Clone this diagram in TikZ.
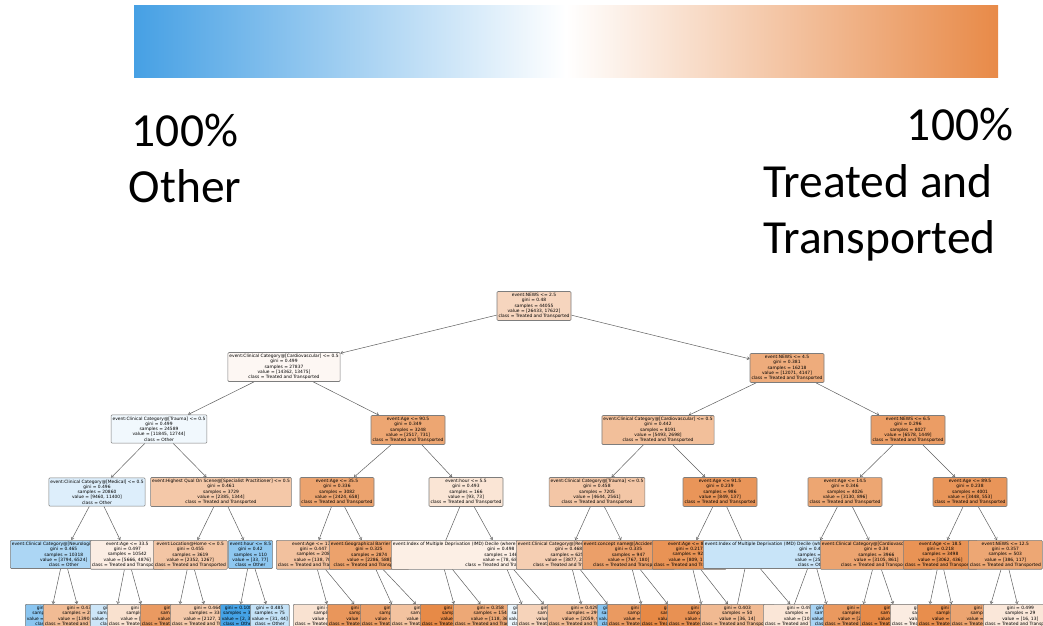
\documentclass[tikz,border=0pt]{standalone}
\usepackage{fontspec}
\usepackage{xcolor}
\usepackage{tikz}
\usetikzlibrary{arrows.meta, backgrounds}

\newfontfamily\treefont{DejaVu Sans}
\newfontfamily\labelfont{Carlito}

\definecolor{treat}{RGB}{229,129,57}
\definecolor{other}{RGB}{57,157,229}
\definecolor{barblue}{RGB}{70,160,228}
\definecolor{barorange}{RGB}{232,138,72}
\definecolor{boxgray}{RGB}{125,125,125}
\definecolor{edgegray}{RGB}{95,95,95}

\newcommand{\treated}{Treated and Transported}
\newcommand{\splittext}[5]{#1\\gini = #2\\samples = #3\\value = [#4]\\class = #5}
\newcommand{\leaftext}[4]{gini = #1\\samples = #2\\value = [#3]\\class = #4}

\begin{document}
\begin{tikzpicture}[x=1pt,y=-1pt,
    split node/.style={draw=boxgray,line width=0.6pt,rounded corners=1pt,align=center,
      inner xsep=1.5pt,inner ysep=1.8pt,text=black,
      font=\treefont\fontsize{4.4}{5.3}\selectfont},
    low node/.style={split node,anchor=north west},
    big label/.style={font=\labelfont\fontsize{47.5}{56}\selectfont,text=black,inner sep=0pt},
    tree edge/.style={draw=edgegray,line width=0.5pt,-{Straight Barb[length=2.2pt,width=3.2pt]}}]

  \useasboundingbox (0,0) rectangle (1043,625);
  \clip (0,0) rectangle (1043,625);

  % colour scale
  \shade[left color=barblue,right color=barorange,middle color=white] (134,5) rectangle (998,77);

  \node[big label,anchor=base] (pctother) at (185,146) {100\%};
  \node[big label,anchor=base] (nameother) at (185,202) {Other};
  \node[big label,anchor=base] (pcttreat) at (960,140) {100\%};
  \node[big label,anchor=base west] (nametreat) at (763,197) {Treated and};
  \node[big label,anchor=base west] (nametransp) at (763,253) {Transported};

  % upper levels
  \node[split node,fill=treat!33] (n0) at (534,306) {\splittext{event:NEWS <= 2.5}{0.48}{44055}{26433, 17622}{\treated}};

  \node[split node,fill=treat!6] (n1) at (284,367) {\splittext{event:Clinical Category@[Cardiovascular] <= 0.5}{0.499}{27837}{14362, 13475}{\treated}};
  \node[split node,fill=treat!66] (n2) at (787,368) {\splittext{event:NEWS <= 4.5}{0.381}{16218}{12071, 4147}{\treated}};

  \node[split node,fill=other!7] (n3) at (159,429) {\splittext{event:Clinical Category@[Trauma] <= 0.5}{0.499}{24589}{11845, 12744}{Other}};
  \node[split node,fill=treat!71] (n4) at (408,430) {\splittext{event:Age <= 90.5}{0.349}{3248}{2517, 731}{\treated}};
  \node[split node,fill=treat!51] (n5) at (658,430) {\splittext{event:Clinical Category@[Cardiovascular] <= 0.5}{0.442}{8191}{5493, 2698}{\treated}};
  \node[split node,fill=treat!78] (n6) at (908,430) {\splittext{event:NEWS <= 6.5}{0.296}{8027}{6578, 1449}{\treated}};

  \node[split node,fill=other!17] (n7) at (97,492) {\splittext{event:Clinical Category@[Medical] <= 0.5}{0.496}{20860}{9460, 11400}{Other}};
  \node[split node,fill=treat!44] (n8) at (221,492) {\splittext{event:Highest Qual On Scene@[Specialist Practitioner] <= 0.5}{0.461}{3729}{2385, 1344}{\treated}};
  \node[split node,fill=treat!73] (n9) at (337,492) {\splittext{event:Age <= 35.5}{0.336}{3082}{2424, 658}{\treated}};
  \node[split node,fill=treat!21] (n10) at (466,492) {\splittext{event:hour <= 5.5}{0.493}{166}{93, 73}{\treated}};
  \node[split node,fill=treat!45] (n11) at (597,492) {\splittext{event:Clinical Category@[Trauma] <= 0.5}{0.458}{7205}{4644, 2561}{\treated}};
  \node[split node,fill=treat!84] (n12) at (720,492) {\splittext{event:Age <= 91.5}{0.239}{986}{849, 137}{\treated}};
  \node[split node,fill=treat!71] (n13) at (845,492) {\splittext{event:Age <= 14.5}{0.346}{4026}{3130, 896}{\treated}};
  \node[split node,fill=treat!84] (n14) at (970,492) {\splittext{event:Age <= 89.5}{0.238}{4001}{3448, 553}{\treated}};

  % fourth level, each box laid over the one before it
  \node[low node,fill=other!42] (m1) at (10,540) {\splittext{event:Clinical Category@[Neurological] <= 0.5}{0.465}{10318}{3794, 6524}{Other}};
  \node[low node,fill=treat!14] (m2) at (90,540) {\splittext{event:Age <= 33.5}{0.497}{10542}{5666, 4876}{\treated}};
  \node[low node,fill=treat!46] (m3) at (153,540) {\splittext{event:Location@Home <= 0.5}{0.455}{3619}{2352, 1267}{\treated}};
  \node[low node,fill=other!57] (m4) at (228,540) {\splittext{event:hour <= 8.5}{0.42}{110}{33, 77}{Other}};
  \node[low node,fill=treat!49] (m5) at (276,540) {\splittext{event:Age <= 17.5}{0.447}{208}{138, 70}{\treated}};
  \node[low node,fill=treat!74] (m6) at (329,540) {\splittext{event:Geographical Barrier <= 0.5}{0.325}{2874}{2286, 588}{\treated}};
  \node[low node,fill=treat!13] (m7) at (391,540) {\splittext{event:Index of Multiple Deprivation (IMD) Decile (where 1 is most deprived 10\% of LSOAs) <= 4.5}{0.498}{146}{78, 68}{\treated}};
  \node[low node,fill=treat!39] (m8) at (516,540) {\splittext{event:Clinical Category@[Respiratory] <= 0.5}{0.468}{6258}{3877, 2381}{\treated}};
  \node[low node,fill=treat!76] (m9) at (582,540) {\splittext{event:concept name@[Accident] <= 0.5}{0.335}{947}{767, 180}{\treated}};
  \node[low node,fill=treat!86] (m10) at (652,540) {\splittext{event:Age <= 85.5}{0.217}{923}{809, 114}{\treated}};
  \node[low node,fill=other!28] (m11) at (703,540) {\splittext{event:Index of Multiple Deprivation (IMD) Decile (where 1 is most deprived 10\% of LSOAs) <= 2.5}{0.486}{60}{25, 35}{Other}};
  \node[low node,fill=treat!72] (m12) at (820,540) {\splittext{event:Clinical Category@[Cardiovascular] <= 0.5}{0.34}{3966}{3105, 861}{\treated}};
  \node[low node,fill=treat!86] (m13) at (903,540) {\splittext{event:Age <= 18.5}{0.218}{3498}{3062, 436}{\treated}};
  \node[low node,fill=treat!70] (m14) at (968,540) {\splittext{event:NEWS <= 12.5}{0.357}{503}{386, 117}{\treated}};

  \coordinate (h1) at (440,554);
  \coordinate (h2) at (748,554);
  \coordinate (hx1) at (735,616);
  \coordinate (hx2) at (790,616);

  % leaves
  \node[low node,fill=other!59] (k1) at (25,604) {\leaftext{0.412}{8284}{2404, 5880}{Other}};
  \node[low node,fill=treat!54] (k2) at (43,604) {\leaftext{0.433}{2034}{1390, 644}{\treated}};
  \node[low node,fill=other!25] (k3) at (90,604) {\leaftext{0.49}{2374}{1020, 1354}{Other}};
  \node[low node,fill=treat!24] (k4) at (107,604) {\leaftext{0.491}{8168}{4646, 3522}{\treated}};
  \node[low node,fill=treat!80] (k5) at (140,604) {\leaftext{0.278}{270}{225, 45}{\treated}};
  \node[low node,fill=treat!43] (k6) at (170,604) {\leaftext{0.464}{3349}{2127, 1222}{\treated}};
  \node[low node,fill=other!94] (k7) at (220,604) {\leaftext{0.108}{35}{2, 33}{Other}};
  \node[low node,fill=other!30] (k8) at (250,604) {\leaftext{0.485}{75}{31, 44}{Other}};
  \node[low node,fill=treat!23] (k9) at (293,604) {\leaftext{0.492}{138}{78, 60}{\treated}};
  \node[low node,fill=treat!83] (k10) at (327,604) {\leaftext{0.245}{70}{60, 10}{\treated}};
  \node[low node,fill=treat!78] (k11) at (360,604) {\leaftext{0.293}{2410}{1980, 430}{\treated}};
  \node[low node,fill=treat!48] (k12) at (390,604) {\leaftext{0.449}{464}{306, 158}{\treated}};
  \node[low node,fill=treat!93] (k13) at (420,604) {\leaftext{0.117}{32}{30, 2}{\treated}};
  \node[low node,fill=treat!69] (k14) at (453,604) {\leaftext{0.358}{154}{118, 36}{\treated}};
  \node[low node,fill=other!10] (k15) at (507,604) {\leaftext{0.499}{42}{20, 22}{Other}};
  \node[low node,fill=treat!35] (k16) at (517,604) {\leaftext{0.477}{102}{62, 40}{\treated}};
  \node[low node,fill=treat!55] (k17) at (547,604) {\leaftext{0.429}{2993}{2059, 934}{\treated}};
  \node[low node,fill=other!60] (k18) at (597,604) {\leaftext{0.408}{42}{12, 30}{Other}};
  \node[low node,fill=treat!80] (k19) at (607,604) {\leaftext{0.275}{730}{610, 120}{\treated}};
  \node[low node,fill=treat!94] (k20) at (640,604) {\leaftext{0.113}{167}{157, 10}{\treated}};
  \node[low node,fill=treat!87] (k21) at (667,604) {\leaftext{0.206}{847}{748, 99}{\treated}};
  \node[low node,fill=treat!55] (k22) at (700,604) {\leaftext{0.403}{50}{36, 14}{\treated}};
  \node[low node,fill=treat!20] (k23) at (763,604) {\leaftext{0.494}{18}{10, 8}{\treated}};
  \node[low node,fill=other!44] (k24) at (810,604) {\leaftext{0.459}{42}{15, 27}{Other}};
  \node[low node,fill=treat!81] (k25) at (823,604) {\leaftext{0.268}{2690}{2260, 430}{\treated}};
  \node[low node,fill=treat!93] (k26) at (860,604) {\leaftext{0.124}{905}{845, 60}{\treated}};
  \node[low node,fill=treat!15] (k27) at (890,604) {\leaftext{0.497}{74}{40, 34}{\treated}};
  \node[low node,fill=treat!90] (k28) at (917,604) {\leaftext{0.167}{3250}{2950, 300}{\treated}};
  \node[low node,fill=treat!72] (k29) at (950,604) {\leaftext{0.343}{474}{370, 104}{\treated}};
  \node[low node,fill=treat!19] (k30) at (983,604) {\leaftext{0.499}{29}{16, 13}{\treated}};

  \begin{scope}[on background layer]
    \path[tree edge]
      (n0) edge (n1) edge (n2)
      (n1) edge (n3) edge (n4)
      (n2) edge (n5) edge (n6)
      (n3) edge (n7) edge (n8)
      (n4) edge (n9) edge (n10)
      (n5) edge (n11) edge (n12)
      (n6) edge (n13) edge (n14)
      (n7) edge (m1) edge (m2)
      (n8) edge (m3) edge (m4)
      (n9) edge (m5) edge (m6)
      (n10) edge (h1) edge (m7)
      (n11) edge (m8) edge (m9)
      (n12) edge (m10) edge (h2)
      (n13) edge (m11) edge (m12)
      (n14) edge (m13) edge (m14)
      (m1) edge (k1) edge (k2)
      (m2) edge (k3) edge (k4)
      (m3) edge (k5) edge (k6)
      (m4) edge (k7) edge (k8)
      (m5) edge (k9) edge (k10)
      (m6) edge (k11) edge (k12)
      (h1) edge (k13) edge (k14)
      (m7) edge (k15) edge (k16)
      (m8) edge (k17) edge (k18)
      (m9) edge (k19) edge (k20)
      (m10) edge (k21) edge (k22)
      (h2) edge (k23) edge (hx1)
      (m11) edge (hx2) edge (k24)
      (m12) edge (k25) edge (k26)
      (m13) edge (k27) edge (k28)
      (m14) edge (k29) edge (k30);
  \end{scope}
\end{tikzpicture}
\end{document}
